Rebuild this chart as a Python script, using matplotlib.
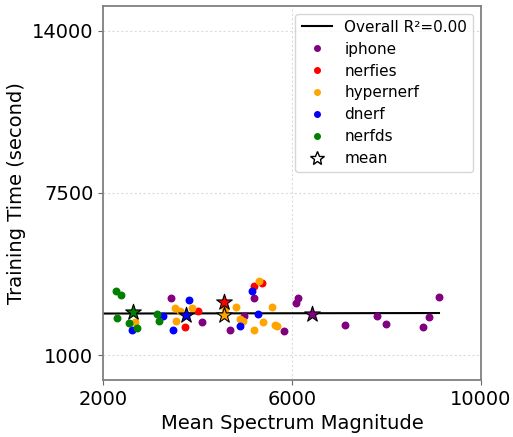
import numpy as np
import matplotlib
matplotlib.use("Agg")
import matplotlib.pyplot as plt
from matplotlib.lines import Line2D

datasets = ["iphone", "nerfies", "hypernerf", "dnerf", "nerfds"]
colors = ["purple", "red", "orange", "blue", "green"]

# mean spectrum magnitude / training time per scene
iphone_x = [3433, 4095, 4990, 4694, 5831, 5189, 6091, 6121, 7115, 7799, 7996, 8772, 8906, 9111]
iphone_y = [3280, 2332, 2572, 2012, 1960, 3292, 3092, 3280, 2200, 2548, 2240, 2108, 2520, 3332]

nerfies_x = [4017, 3729, 5196, 5359]
nerfies_y = [2760, 2132, 3772, 3892]

hypernerf_x = [2677, 3530, 3630, 3884, 3551, 4576, 4815, 4899, 4969, 5189, 5380, 5583, 5640, 5676, 5302]
hypernerf_y = [2332, 2880, 2772, 2880, 2372, 2828, 2932, 2440, 2360, 2000, 2308, 2932, 2200, 2160, 3960]

dnerf_x = [2607, 3276, 3820, 3481, 4893, 5287, 5153]
dnerf_y = [1988, 2548, 3200, 1988, 2172, 2652, 3588]

nerfds_x = [2269, 2375, 2303, 2550, 2726, 3137, 3192]
nerfds_y = [3560, 3428, 2468, 2292, 2092, 2628, 2372]

# per-dataset means (stars)
mean_x = [6430, 4567, 4563, 3750, 2641]
mean_y = [2628, 3148, 2588, 2588, 2708]

xs = [iphone_x, nerfies_x, hypernerf_x, dnerf_x, nerfds_x]
ys = [iphone_y, nerfies_y, hypernerf_y, dnerf_y, nerfds_y]

fig = plt.figure(figsize=(5.13, 4.37), dpi=100)
ax = fig.add_axes([103 / 513, 1 - 380 / 437, 378 / 513, 374 / 437])

for name, c, x, y in zip(datasets, colors, xs, ys):
    ax.scatter(x, y, color=c, s=22, zorder=3)

for c, mx, my in zip(colors, mean_x, mean_y):
    ax.scatter(mx, my, marker="*", s=140, color=c, edgecolors="black", linewidths=0.8, zorder=4)

all_x = np.concatenate([np.array(v) for v in xs])
all_y = np.concatenate([np.array(v) for v in ys])
slope, intercept = np.polyfit(all_x, all_y, 1)
pred = slope * all_x + intercept
r2 = 1 - np.sum((all_y - pred) ** 2) / np.sum((all_y - all_y.mean()) ** 2)
lx = np.linspace(2000, all_x.max(), 100)
ax.plot(lx, slope * lx + intercept, color="black", lw=1.5, zorder=2)

ax.set_xlim(2000, 10000)
ax.set_ylim(0, 15000)
ax.set_xticks([2000, 6000, 10000])
ax.set_yticks([1000, 7500, 14000])
ax.tick_params(labelsize=14, color="dimgray")
ax.set_xlabel("Mean Spectrum Magnitude", fontsize=14)
ax.set_ylabel("Training Time (second)", fontsize=14)
ax.grid(True, linestyle=(0, (2, 2)), linewidth=0.8, color="lightgray", alpha=0.8)
for sp in ax.spines.values():
    sp.set_color("gray")
    sp.set_linewidth(1.3)

handles = [Line2D([], [], color="black", lw=1.5, label=f"Overall R²={r2:.2f}")]
for name, c in zip(datasets, colors):
    handles.append(Line2D([], [], marker="o", ls="", color=c, markersize=4, label=name))
handles.append(Line2D([], [], marker="*", ls="", markerfacecolor="white",
                      markeredgecolor="black", markersize=10, label="mean"))
ax.legend(handles=handles, loc="upper right", fontsize=11, labelspacing=0.45)

fig.savefig("out.png", dpi=100)
